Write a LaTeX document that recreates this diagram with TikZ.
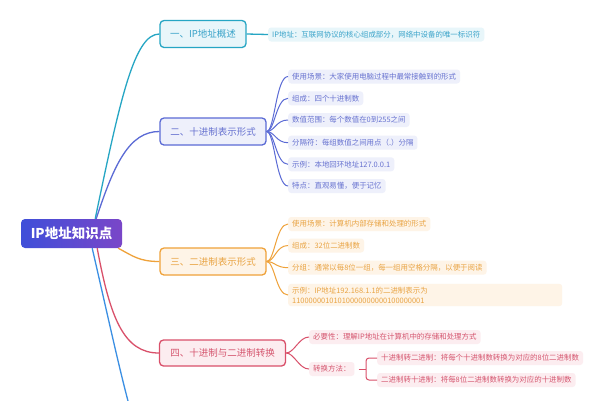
\documentclass[tikz,border=0pt]{standalone}
\usepackage{fontspec}
\setmainfont{Noto Sans CJK SC}
\usetikzlibrary{calc}
\definecolor{tealc}{HTML}{26A6C4}
\definecolor{tealt}{HTML}{3AA3C9}
\definecolor{tealf}{HTML}{E8F6FA}
\definecolor{vioc}{HTML}{5B6BD5}
\definecolor{viot}{HTML}{6772D0}
\definecolor{viof}{HTML}{EEF0FB}
\definecolor{orac}{HTML}{EFA23A}
\definecolor{orat}{HTML}{E9A444}
\definecolor{oraf}{HTML}{FEF4E7}
\definecolor{redc}{HTML}{D9506A}
\definecolor{redt}{HTML}{D5566F}
\definecolor{redf}{HTML}{FCEDF0}
\definecolor{bluec}{HTML}{3B8FE3}
\definecolor{rootl}{HTML}{3F4FD9}
\definecolor{rootr}{HTML}{7A46C8}
\begin{document}
\begin{tikzpicture}[x=1pt,y=-1pt,
  rootbox/.style={rounded corners=4pt, left color=rootl, right color=rootr, text=white,
    minimum width=101pt, minimum height=29pt, inner sep=0pt, font=\fontsize{13.5}{16}\selectfont\bfseries},
  branchbox/.style={draw, line width=1.3pt, rounded corners=4pt, minimum height=27pt, inner sep=0pt,
    font=\fontsize{9.5}{11}\selectfont},
  leafbox/.style={rounded corners=3pt, inner xsep=4pt, inner ysep=0pt, minimum height=14pt, anchor=west,
    font=\fontsize{7.45}{9}\selectfont},
  mainconn/.style={line width=1.3pt},
  leafconn/.style={line width=1pt}]
\useasboundingbox (0,0) rectangle (604,400);
\fill[white] (0,0) rectangle (604,400);
\clip (0,0) rectangle (604,400);

% root
\node[rootbox] (root) at (71.5,233.5) {IP地址知识点};

% branches
\node[branchbox, draw=tealc, fill=tealf, text=tealt, minimum width=86pt] (b1) at (203,34) {一、IP地址概述};
\node[branchbox, draw=vioc, fill=viof, text=viot, minimum width=106pt] (b2) at (213,131.5) {二、十进制表示形式};
\node[branchbox, draw=orac, fill=oraf, text=orat, minimum width=106pt] (b3) at (213,261.5) {三、二进制表示形式};
\node[branchbox, draw=redc, fill=redf, text=redt, minimum width=126pt, minimum height=26pt] (b4) at (222.5,353) {四、十进制与二进制转换};
\coordinate (b5) at (160,470);

% root connectors
\draw[mainconn, tealc] ([xshift=-27pt]root.north east) .. controls +(25,-120) and +(-25,0) .. (b1.west);
\draw[mainconn, vioc] ([xshift=-26pt]root.north east) .. controls +(18,-55) and +(-30,0) .. (b2.west);
\draw[mainconn, orac] ([xshift=-4pt]root.south east) .. controls +(15,8) and +(-20,0) .. (b3.west);
\draw[mainconn, redc] ([xshift=-25pt]root.south east) .. controls +(13,70) and +(-35,0) .. (b4.west);
\draw[mainconn, bluec] ([xshift=-30pt]root.south east) .. controls +(30,130) and +(-20,0) .. (b5);

% branch 1 leaf
\node[leafbox, fill=tealf, text=tealt] (t1) at (268,34.5) {IP地址：互联网协议的核心组成部分，网络中设备的唯一标识符};
\draw[leafconn, tealc, line width=1.3pt] (b1.east) -- (t1.west);

% branch 2 leaves
\node[leafbox, fill=viof, text=viot] (v1) at (288,76.5) {使用场景：大家使用电脑过程中最常接触到的形式};
\node[leafbox, fill=viof, text=viot] (v2) at (288,98.3) {组成：四个十进制数};
\node[leafbox, fill=viof, text=viot] (v3) at (288,120) {数值范围：每个数值在0到255之间};
\node[leafbox, fill=viof, text=viot] (v4) at (288,142.7) {分隔符：每组数值之间用点（.）分隔};
\node[leafbox, fill=viof, text=viot] (v5) at (288,164.3) {示例：本地回环地址127.0.0.1};
\node[leafbox, fill=viof, text=viot] (v6) at (288,186) {特点：直观易懂，便于记忆};
\foreach \l in {v1,v2,v3,v4,v5,v6}
  \draw[leafconn, vioc] (b2.east) .. controls +(8,0) and +(-12,0) .. (\l.west);

% branch 3 leaves
\node[leafbox, fill=oraf, text=orat] (o1) at (288,224) {使用场景：计算机内部存储和处理的形式};
\node[leafbox, fill=oraf, text=orat] (o2) at (288,245.5) {组成：32位二进制数};
\node[leafbox, fill=oraf, text=orat] (o3) at (288,267.7) {分组：通常以每8位一组，每一组用空格分隔，以便于阅读};
\node[leafbox, fill=oraf, text=orat, inner ysep=3pt, text width=266pt, align=left,
  font=\fontsize{7.45}{10}\selectfont] (o4) at (288,295)
  {示例：IP地址192.168.1.1的二进制表示为\\11000000101010000000000100000001};
\foreach \l in {o1,o2,o3,o4}
  \draw[leafconn, orac] (b3.east) .. controls +(8,0) and +(-12,0) .. (\l.west);

% branch 4 leaves
\node[leafbox, fill=redf, text=redt] (r1) at (309,337) {必要性：理解IP地址在计算机中的存储和处理方式};
\node[leafbox, fill=redf, text=redt] (r2) at (309,369) {转换方法：};
\node[leafbox, fill=redf, text=redt] (r3) at (377,358) {十进制转二进制：将每个十进制数转换为对应的8位二进制数};
\node[leafbox, fill=redf, text=redt] (r4) at (377,380) {二进制转十进制：将每8位二进制数转换为对应的十进制数};
\foreach \l in {r1,r2}
  \draw[leafconn, redc] (b4.east) .. controls +(8,0) and +(-10,0) .. (\l.west);
\path ($(r3.west)+(-11,0)$) coordinate (bkx);
\coordinate (bk) at (bkx |- r2.east);
\draw[leafconn, redc] ([xshift=4pt]r2.east) -- (bk);
\draw[leafconn, redc, rounded corners=3pt] (r3.west) -| (bk) |- (r4.west);
\end{tikzpicture}
\end{document}
